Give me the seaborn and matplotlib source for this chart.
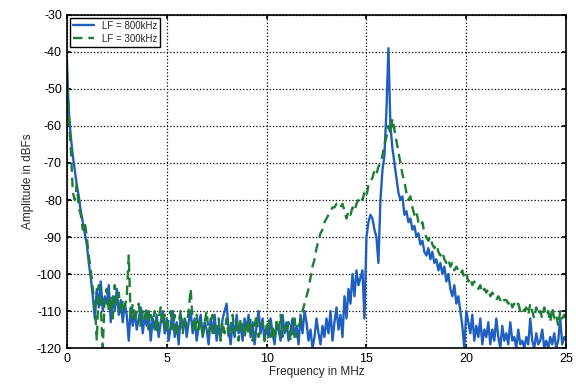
"""Spectrum of the two LF settings, amplitude vs frequency."""

import matplotlib

matplotlib.use("Agg")
import matplotlib.pyplot as plt
import numpy as np
import pandas as pd
import seaborn as sns

# frequency grid in MHz (0.1 MHz spacing, 0..25)
freq_mhz = np.round(np.arange(0, 251) * 0.1, 1)

# LF = 800kHz, amplitude in dBFs per 0.1 MHz
amp_800k = [
    -42, -56, -63, -68, -72, -76, -79, -83, -86, -89,
    -92, -97, -101, -106, -112, -104, -109, -102, -110, -106,
    -108, -103, -113, -106, -110, -104, -111, -107, -113, -108,
    -111, -118, -109, -114, -110, -115, -112, -109, -116, -111,
    -114, -110, -118, -112, -115, -111, -117, -113, -110, -116,
    -112, -118, -114, -110, -117, -113, -119, -111, -115, -112,
    -117, -113, -110, -116, -112, -118, -114, -111, -117, -113,
    -115, -119, -112, -116, -111, -118, -114, -117, -112, -110,
    -108, -115, -119, -113, -117, -111, -116, -114, -118, -112,
    -115, -111, -117, -113, -119, -114, -110, -116, -112, -118,
    -114, -117, -112, -116, -119, -113, -115, -118, -111, -116,
    -113, -118, -115, -112, -117, -114, -119, -111, -116, -110,
    -113, -118, -115, -120, -117, -112, -116, -119, -114, -117,
    -112, -116, -110, -118, -113, -109, -115, -111, -117, -106,
    -112, -104, -108, -100, -106, -99, -103, -101, -99, -112,
    -90, -86, -84, -85, -88, -90, -97, -80, -72, -68,
    -56, -39, -60, -66, -70, -74, -78, -80, -79, -84,
    -83, -86, -85, -88, -87, -90, -89, -92, -91, -94,
    -95, -93, -96, -94, -97, -96, -99, -97, -100, -98,
    -102, -100, -104, -106, -103, -108, -106, -110, -114, -120,
    -110, -113, -116, -111, -118, -114, -117, -112, -119, -115,
    -117, -113, -119, -115, -118, -112, -117, -120, -114, -118,
    -116, -119, -113, -118, -117, -120, -115, -119, -118, -120,
    -117, -119, -112, -118, -120, -116, -119, -118, -115, -120,
    -118, -120, -117, -119, -116, -120, -118, -112, -119, -117,
    -118,
]

# LF = 300kHz, amplitude in dBFs
amp_300k = [
    -45, -58, -66, -78, -80, -76, -82, -84, -88, -86,
    -90, -95, -99, -104, -108, -118, -103, -109, -120, -106,
    -104, -110, -106, -112, -103, -108, -105, -111, -107, -109,
    -106, -95, -112, -108, -113, -110, -108, -114, -110, -112,
    -109, -115, -111, -113, -110, -116, -112, -109, -114, -111,
    -116, -112, -110, -115, -111, -117, -113, -110, -116, -112,
    -114, -110, -104, -113, -116, -111, -115, -112, -117, -113,
    -110, -116, -113, -111, -117, -114, -112, -118, -113, -116,
    -112, -117, -114, -111, -116, -113, -118, -112, -115, -117,
    -113, -116, -112, -118, -114, -111, -117, -115, -113, -118,
    -115, -112, -117, -114, -118, -113, -116, -111, -117, -114,
    -116, -113, -118, -115, -112, -117, -114, -113, -110, -108,
    -106, -104, -101, -98, -96, -93, -91, -89, -88, -86,
    -85, -84, -83, -82, -82, -81, -81, -82, -81, -83,
    -85, -83, -84, -82, -83, -81, -80, -79, -80, -78,
    -79, -76, -75, -74, -72, -73, -71, -70, -68, -65,
    -63, -60, -62, -58, -61, -64, -67, -70, -73, -75,
    -78, -80, -79, -82, -84, -83, -86, -87, -86, -89,
    -90, -91, -90, -92, -93, -92, -94, -95, -94, -96,
    -97, -96, -98, -97, -99, -98, -99, -100, -99, -101,
    -100, -102, -101, -103, -102, -103, -104, -103, -105, -104,
    -105, -104, -106, -105, -106, -107, -106, -107, -108, -107,
    -107, -108, -107, -109, -108, -109, -108, -110, -109, -110,
    -109, -111, -108, -110, -112, -109, -111, -110, -112, -109,
    -111, -110, -113, -109, -112, -111, -114, -110, -112, -111,
    -112,
]

x_ticks = [0, 5, 10, 15, 20, 25]
y_ticks = [-120, -110, -100, -90, -80, -70, -60, -50, -40, -30]

df = pd.DataFrame({"freq": freq_mhz, "lf800": amp_800k, "lf300": amp_300k})

sns.set_theme(style="white")
plt.rcParams["font.family"] = ["Liberation Sans", "DejaVu Sans"]
plt.rcParams["axes.unicode_minus"] = False

fig = plt.figure(figsize=(5.76, 3.92), dpi=100)
ax = fig.add_axes([0.116, 0.112, 0.867, 0.85])

sns.lineplot(data=df, x="freq", y="lf800", ax=ax, color="#1f5fbf",
             linewidth=1.7, label="LF = 800kHz")
sns.lineplot(data=df, x="freq", y="lf300", ax=ax, color="#1d7d35",
             linewidth=1.7, linestyle=(0, (4, 2.5)), label="LF = 300kHz")

ax.set_xlim(0, 25)
ax.set_ylim(-120, -30)
ax.set_xticks(x_ticks)
ax.set_yticks(y_ticks)
ax.grid(True, color="black", linestyle=":", linewidth=0.9)
ax.tick_params(direction="in", length=3, labelsize=9, top=True, right=True,
               bottom=True, left=True, color="black", labelcolor="black")
for side in ax.spines.values():
    side.set_color("black")
    side.set_linewidth(1.2)

ax.set_xlabel("Frequency in MHz", fontsize=8.5, labelpad=1)
ax.set_ylabel("Amplitude in dBFs", fontsize=8.5, labelpad=2)

leg = ax.legend(loc="upper left", fontsize=7, fancybox=False, framealpha=1,
                edgecolor="black", borderaxespad=0.3, handlelength=2.2,
                borderpad=0.3, labelspacing=0.3)
leg.get_frame().set_linewidth(1.0)

fig.savefig("out.png", dpi=100)
plt.close(fig)
